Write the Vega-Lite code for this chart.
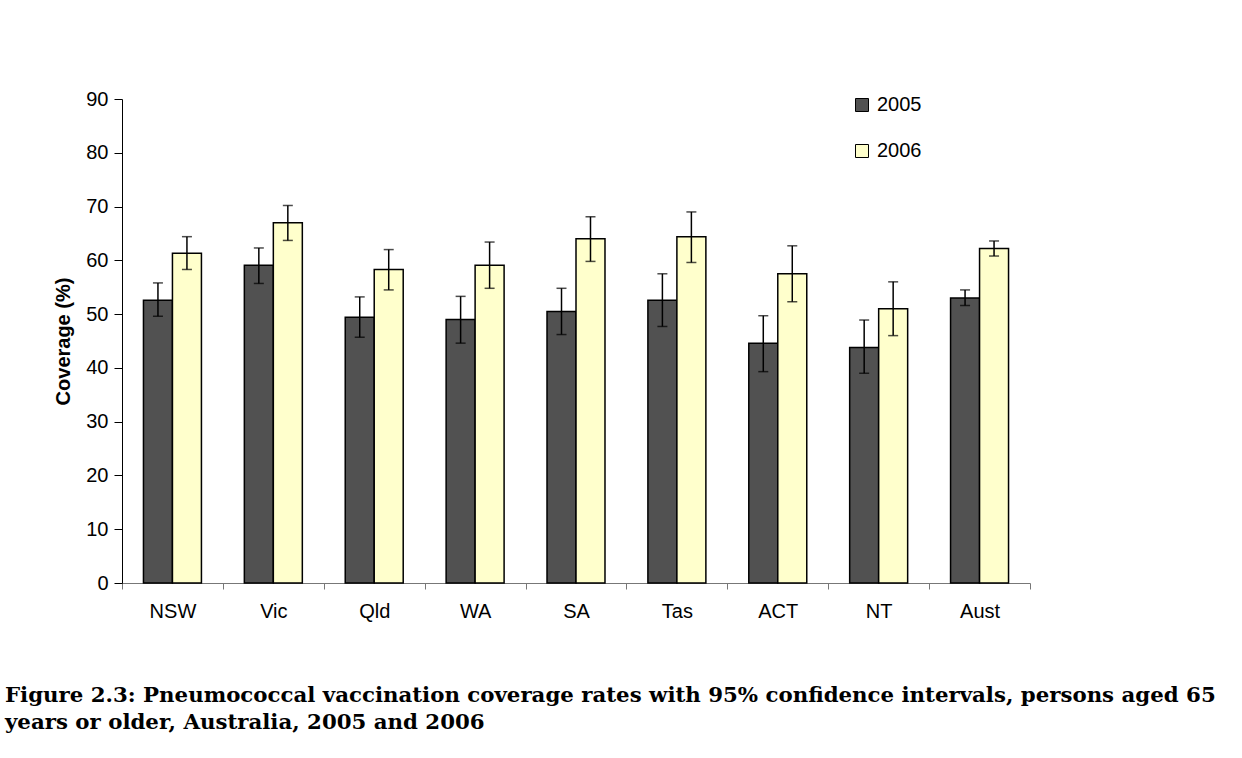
{
  "$schema": "https://vega.github.io/schema/vega-lite/v6.json",
  "width": 908,
  "height": 484,
  "autosize": {"type": "none"},
  "padding": {"left": 122, "top": 99, "right": 212, "bottom": 175},
  "background": "white",
  "title": {
    "text": ["Figure 2.3: Pneumococcal vaccination coverage rates with 95% confidence intervals, persons aged 65", "years or older, Australia, 2005 and 2006"],
    "orient": "bottom",
    "anchor": "start",
    "frame": "group",
    "dx": -117,
    "offset": 64,
    "font": "DejaVu Serif",
    "fontSize": 21.3,
    "fontWeight": "bold",
    "color": "black",
    "lineHeight": 27
  },
  "data": {
    "values": [
      {"state": "NSW", "year": "2005", "value": 52.6, "lo": 49.6, "hi": 55.8},
      {"state": "NSW", "year": "2006", "value": 61.3, "lo": 58.3, "hi": 64.4},
      {"state": "Vic", "year": "2005", "value": 59.1, "lo": 55.7, "hi": 62.3},
      {"state": "Vic", "year": "2006", "value": 67.0, "lo": 63.7, "hi": 70.2},
      {"state": "Qld", "year": "2005", "value": 49.4, "lo": 45.7, "hi": 53.2},
      {"state": "Qld", "year": "2006", "value": 58.3, "lo": 54.5, "hi": 62.0},
      {"state": "WA", "year": "2005", "value": 49.0, "lo": 44.6, "hi": 53.3},
      {"state": "WA", "year": "2006", "value": 59.1, "lo": 54.8, "hi": 63.4},
      {"state": "SA", "year": "2005", "value": 50.5, "lo": 46.2, "hi": 54.8},
      {"state": "SA", "year": "2006", "value": 64.0, "lo": 59.8, "hi": 68.1},
      {"state": "Tas", "year": "2005", "value": 52.6, "lo": 47.7, "hi": 57.5},
      {"state": "Tas", "year": "2006", "value": 64.4, "lo": 59.6, "hi": 69.0},
      {"state": "ACT", "year": "2005", "value": 44.6, "lo": 39.3, "hi": 49.7},
      {"state": "ACT", "year": "2006", "value": 57.5, "lo": 52.3, "hi": 62.7},
      {"state": "NT", "year": "2005", "value": 43.8, "lo": 39.0, "hi": 48.9},
      {"state": "NT", "year": "2006", "value": 51.0, "lo": 46.0, "hi": 56.0},
      {"state": "Aust", "year": "2005", "value": 53.0, "lo": 51.6, "hi": 54.5},
      {"state": "Aust", "year": "2006", "value": 62.2, "lo": 60.8, "hi": 63.6}
    ]
  },
  "encoding": {
    "x": {
      "field": "state",
      "type": "nominal",
      "sort": ["NSW", "Vic", "Qld", "WA", "SA", "Tas", "ACT", "NT", "Aust"],
      "scale": {"paddingInner": 0, "paddingOuter": 0},
      "axis": {
        "title": null,
        "labelAngle": 0,
        "tickBand": "extent",
        "tickSize": 6,
        "labelPadding": 12,
        "domainColor": "#777777",
        "tickColor": "#777777"
      }
    },
    "xOffset": {
      "field": "year",
      "type": "nominal",
      "scale": {"paddingInner": 0, "paddingOuter": 0.74}
    }
  },
  "layer": [
    {
      "mark": {"type": "bar", "stroke": "black", "strokeWidth": 1.5, "opacity": 1},
      "encoding": {
        "y": {
          "field": "value",
          "type": "quantitative",
          "scale": {"domain": [0, 90], "nice": false},
          "axis": {
            "title": "Coverage (%)",
            "values": [0, 10, 20, 30, 40, 50, 60, 70, 80, 90],
            "grid": false,
            "tickSize": 8,
            "labelPadding": 6,
            "titlePadding": 12,
            "domainColor": "black",
            "tickColor": "black"
          }
        },
        "color": {
          "field": "year",
          "type": "nominal",
          "scale": {"domain": ["2005", "2006"], "range": ["#515151", "#FFFFCC"]},
          "legend": {
            "title": null,
            "orient": "none",
            "legendX": 730,
            "legendY": -4,
            "symbolType": "square",
            "symbolSize": 169,
            "symbolStrokeColor": "black",
            "symbolStrokeWidth": 1,
            "symbolOpacity": 1,
            "labelFontSize": 20,
            "labelFont": "Liberation Sans",
            "labelColor": "black",
            "labelOffset": 5,
            "rowPadding": 26
          }
        }
      }
    },
    {
      "mark": {"type": "rule", "color": "black", "strokeWidth": 1.5},
      "encoding": {
        "y": {"field": "lo", "type": "quantitative"},
        "y2": {"field": "hi"}
      }
    },
    {
      "mark": {"type": "tick", "color": "black", "thickness": 1.5, "size": 10, "orient": "horizontal"},
      "encoding": {
        "y": {"field": "lo", "type": "quantitative"}
      }
    },
    {
      "mark": {"type": "tick", "color": "black", "thickness": 1.5, "size": 10, "orient": "horizontal"},
      "encoding": {
        "y": {"field": "hi", "type": "quantitative"}
      }
    }
  ],
  "config": {
    "view": {"stroke": null},
    "axis": {
      "labelFont": "Liberation Sans",
      "labelFontSize": 20,
      "labelColor": "black",
      "titleFont": "Liberation Sans",
      "titleFontSize": 20,
      "titleFontWeight": "bold",
      "titleColor": "black"
    }
  }
}
